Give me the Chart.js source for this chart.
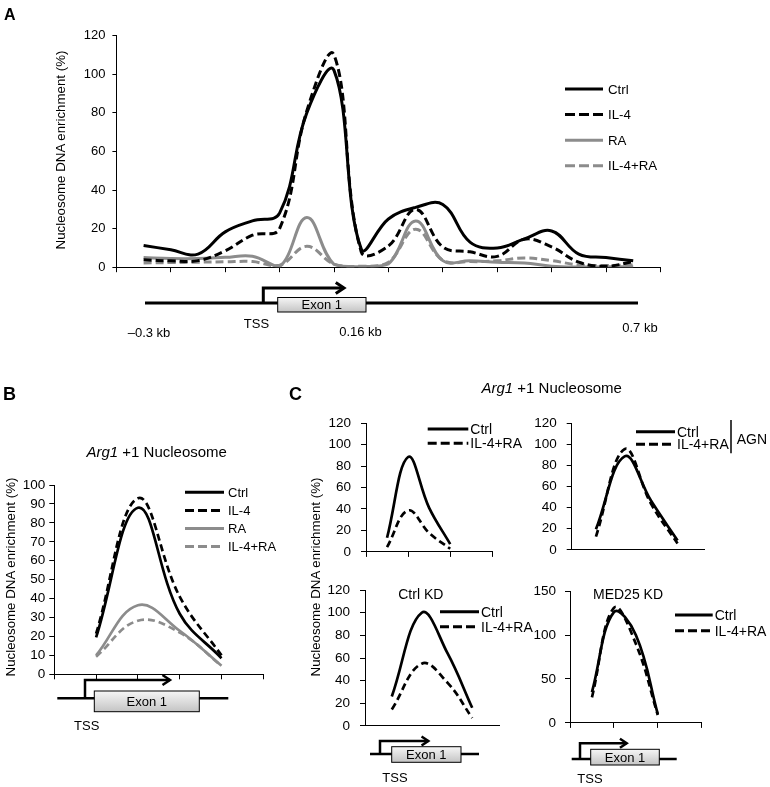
<!DOCTYPE html>
<html>
<head>
<meta charset="utf-8">
<script src="https://cdn.jsdelivr.net/npm/chart.js@4.4.1/dist/chart.umd.min.js"></script>
<style>
  html, body { margin: 0; padding: 0; background: #fff; }
  #page { position: relative; width: 770px; height: 787px; overflow: hidden; font-family: "Liberation Sans", Arial, sans-serif; }
  #page canvas { position: absolute; }
  #overlay { position: absolute; left: 0; top: 0; }
</style>
</head>
<body>
<div id="page">
  <svg id="overlay" width="770" height="787" font-family="Liberation Sans, Arial, sans-serif"></svg>
</div>
<script>
// ---- data ----
// panel A: nucleosome scan across the locus (axis units 0-20)
const posA = [1, 2, 3, 4, 5, 6, 7, 8, 9, 10, 11, 12, 13, 14, 15, 16, 17, 18, 19];
const ctrlA   = [11.3, 9, 6.8, 18.3, 24, 28, 80, 102, 9.5, 25, 31, 32.5, 13, 10, 14.7, 18.8, 6.8, 5, 3.3];
const il4A    = [3.8, 3.3, 3.4, 8.5, 16.6, 20, 81, 110, 8, 11, 30, 10.5, 8, 5.6, 14.5, 10.5, 2.6, 0.5, 2.9];
const raA     = [5, 4.5, 4.5, 5.1, 5.7, 0.4, 25.7, 1.5, 0.3, 1.7, 24, 3.4, 3.3, 2.6, 2.2, 0.5, 0.1, 0.2, 0.2];
const il4raA  = [2.2, 2.4, 2.6, 2.8, 2.9, 1, 10.8, 1.6, 0.5, 2.6, 19.7, 3.6, 2.9, 3.3, 4.8, 3.4, 1.2, 0.9, 1.2];
const yTicksA = [0, 20, 40, 60, 80, 100, 120];
const xTicksA = [0, 2, 4, 6, 8, 10, 12, 14, 16, 18, 20];

// panel B: Arg1 +1 nucleosome
const posB = [1, 2, 3, 4];
const ctrlB  = [19.5, 88, 32, 8.5];
const il4B   = [21.5, 93, 41, 10];
const raB    = [10, 36.5, 23, 4.5];
const il4raB = [9.3, 28.3, 22, 4.5];
const yTicksB = [0, 10, 20, 30, 40, 50, 60, 70, 80, 90, 100];
const xTicksB = [0, 1, 2, 3, 4, 5];

// panel C: four small charts
const posC1 = [0.5, 1, 1.5, 2];
const ctrlC1  = [13.2, 88.4, 41, 7.3];
const il4raC1 = [4.4, 38.6, 17.6, 2.9];
const posC2 = [0.55, 1.2, 1.8, 2.4];
const ctrlC2  = [19.5, 88.5, 46.5, 9];
const il4raC2 = [12.6, 95.4, 43.5, 6];
const posC3 = [0.6, 1.27, 1.85, 2.4];
const ctrlC3  = [26, 100, 64, 16];
const il4raC3 = [14.5, 55, 38, 7];
const posC4 = [0.5, 1, 1.5, 2];
const ctrlC4  = [35, 126, 100, 10];
const il4raC4 = [29, 131, 90, 9];
const yTicksC = [0, 20, 40, 60, 80, 100, 120];
const yTicksC4 = [0, 50, 100, 150];
const xTicksC = [0, 1, 2, 3];

const BLACK = '#000';
const GRAY = '#8c8c8c';

// legend drawn as line sample + label, one row per dataset
const lineLegend = {
  id: 'lineLegend',
  afterDatasetsDraw(chart, args, opts) {
    if (opts.x == null) return;
    const ctx = chart.ctx;
    ctx.save();
    ctx.font = opts.font;
    ctx.textBaseline = 'middle';
    ctx.fillStyle = '#000';
    chart.data.datasets.forEach((ds, i) => {
      const y = opts.y + i * opts.dy;
      ctx.beginPath();
      ctx.setLineDash(ds.borderDash.length ? opts.dash : []);
      ctx.lineWidth = opts.lw;
      ctx.strokeStyle = ds.borderColor;
      ctx.moveTo(opts.x, y);
      ctx.lineTo(opts.x + opts.len, y);
      ctx.stroke();
      ctx.setLineDash([]);
      ctx.fillText(ds.label, opts.x + opts.len + opts.gap, y + 1);
    });
    ctx.restore();
  }
};

const page = document.getElementById('page');
const overlay = document.getElementById('overlay');

function makeChart(cfg) {
  const c = document.createElement('canvas');
  c.width = cfg.box.w;
  c.height = cfg.box.h;
  c.style.left = cfg.box.x + 'px';
  c.style.top = cfg.box.y + 'px';
  page.insertBefore(c, overlay);
  const yW = cfg.area.l - cfg.box.x;
  const xH = cfg.box.y + cfg.box.h - cfg.area.b;
  const lg = cfg.legend;
  return new Chart(c.getContext('2d'), {
    type: 'line',
    data: {
      datasets: cfg.series.map(s => ({
        label: s.label,
        data: cfg.xs.map((x, i) => ({ x: x, y: s.data[i] })),
        borderColor: s.color,
        borderDash: s.dash || [],
        borderWidth: cfg.lw,
        borderJoinStyle: 'round',
        pointRadius: 0,
        tension: 0.4,
        fill: false
      }))
    },
    options: {
      responsive: false,
      animation: false,
      events: [],
      layout: { padding: { top: cfg.area.t - cfg.box.y, right: cfg.box.x + cfg.box.w - cfg.area.r, left: 0, bottom: 0 } },
      plugins: {
        legend: { display: false },
        tooltip: { enabled: false },
        lineLegend: {
          x: lg.x - cfg.box.x, y: lg.y - cfg.box.y, dy: lg.dy, len: lg.len, gap: lg.gap,
          font: lg.size + 'px "Liberation Sans", Arial, sans-serif', lw: 3, dash: lg.dash
        }
      },
      scales: {
        x: {
          type: 'linear',
          min: cfg.xTicks[0],
          max: cfg.xTicks[cfg.xTicks.length - 1],
          afterBuildTicks: s => { s.ticks = cfg.xTicks.map(v => ({ value: v })); },
          ticks: { display: false },
          grid: { drawOnChartArea: false, drawTicks: cfg.xMarks, tickLength: 5, color: BLACK, lineWidth: 1 },
          border: { color: BLACK, width: 1 },
          afterFit: s => { s.height = xH; }
        },
        y: {
          min: cfg.yTicks[0],
          max: cfg.yTicks[cfg.yTicks.length - 1],
          afterBuildTicks: s => { s.ticks = cfg.yTicks.map(v => ({ value: v })); },
          ticks: { color: BLACK, autoSkip: false, padding: cfg.tickPad, font: { family: '"Liberation Sans", Arial, sans-serif', size: cfg.tickSize || 13 } },
          grid: { drawOnChartArea: false, tickLength: cfg.tickLen, color: BLACK, lineWidth: 1 },
          border: { color: BLACK, width: 1 },
          afterFit: s => { s.width = yW; }
        }
      }
    },
    plugins: [lineLegend]
  });
}

// panel A
makeChart({
  box: { x: 0, y: 20, w: 680, h: 262 }, area: { l: 116.4, t: 35.7, r: 660.4, b: 268.7 },
  xs: posA, xTicks: xTicksA, yTicks: yTicksA, xMarks: true, tickLen: 4, tickPad: 7, lw: 3,
  series: [
    { label: 'Ctrl', data: ctrlA, color: BLACK },
    { label: 'IL-4', data: il4A, color: BLACK, dash: [8, 4] },
    { label: 'RA', data: raA, color: GRAY },
    { label: 'IL-4+RA', data: il4raA, color: GRAY, dash: [8, 4] }
  ],
  legend: { x: 565, y: 89, dy: 25.6, len: 38, gap: 5, size: 13.3, dash: [10, 4] }
});

// panel B
makeChart({
  box: { x: 0, y: 470, w: 290, h: 220 }, area: { l: 54.3, t: 485, r: 263.3, b: 674.3 },
  xs: posB, xTicks: xTicksB, yTicks: yTicksB, xMarks: true, tickLen: 5, tickPad: 4, tickSize: 13.5, lw: 2.7,
  series: [
    { label: 'Ctrl', data: ctrlB, color: BLACK },
    { label: 'IL-4', data: il4B, color: BLACK, dash: [7, 4] },
    { label: 'RA', data: raB, color: GRAY },
    { label: 'IL-4+RA', data: il4raB, color: GRAY, dash: [7, 4] }
  ],
  legend: { x: 185, y: 492.3, dy: 18.1, len: 39, gap: 4, size: 13, dash: [9, 4] }
});

// panel C
const seriesC = (c, d) => [
  { label: 'Ctrl', data: c, color: BLACK },
  { label: 'IL-4+RA', data: d, color: BLACK, dash: [7, 4] }
];
makeChart({
  box: { x: 325, y: 405, w: 205, h: 165 }, area: { l: 366, t: 420, r: 492.3, b: 556.7 },
  xs: posC1, xTicks: xTicksC, yTicks: yTicksC, xMarks: true, tickLen: 5, tickPad: 10, tickSize: 13.5, lw: 2.7,
  series: seriesC(ctrlC1, il4raC1),
  legend: { x: 427.7, y: 429, dy: 14.3, len: 40.6, gap: 2, size: 14, dash: [9, 4] }
});
makeChart({
  box: { x: 528, y: 405, w: 242, h: 163 }, area: { l: 571.7, t: 421.7, r: 704, b: 555 },
  xs: posC2, xTicks: xTicksC, yTicks: yTicksC, xMarks: false, tickLen: 5, tickPad: 10, tickSize: 13.5, lw: 2.7,
  series: seriesC(ctrlC2, il4raC2),
  legend: { x: 636, y: 431.7, dy: 12.6, len: 39, gap: 2, size: 14, dash: [9, 4] }
});
makeChart({
  box: { x: 325, y: 572, w: 215, h: 172 }, area: { l: 365, t: 588.3, r: 499, b: 731.7 },
  xs: posC3, xTicks: xTicksC, yTicks: yTicksC, xMarks: false, tickLen: 5, tickPad: 10, tickSize: 13.5, lw: 2.7,
  series: seriesC(ctrlC3, il4raC3),
  legend: { x: 440, y: 611.7, dy: 15, len: 39, gap: 2, size: 14, dash: [9, 4] }
});
makeChart({
  box: { x: 528, y: 574, w: 242, h: 166 }, area: { l: 570, t: 590, r: 701.7, b: 727.3 },
  xs: posC4, xTicks: xTicksC, yTicks: yTicksC4, xMarks: true, tickLen: 5, tickPad: 9, tickSize: 13.5, lw: 2.7,
  series: seriesC(ctrlC4, il4raC4),
  legend: { x: 675, y: 615, dy: 15.7, len: 37.7, gap: 2, size: 14, dash: [9, 4] }
});

// ---- labels and gene diagrams (svg) ----
let svg = '<defs><linearGradient id="exon" x1="0" y1="0" x2="0" y2="1">' +
  '<stop offset="0" stop-color="#f6f6f6"/><stop offset="1" stop-color="#c4c4c4"/></linearGradient></defs>';

function txt(x, y, s, size, extra) {
  svg += `<text x="${x}" y="${y}" font-size="${size}" ${extra || ''}>${s}</text>`;
}
function vtitle(x, y) {
  svg += `<text transform="translate(${x},${y}) rotate(-90)" text-anchor="middle" dominant-baseline="central" font-size="13.3">Nucleosome DNA enrichment (%)</text>`;
}

txt(4, 20, 'A', 16, 'font-weight="bold"');
txt(3, 400, 'B', 18, 'font-weight="bold"');
txt(289, 400, 'C', 18, 'font-weight="bold"');
vtitle(60, 150);
vtitle(10, 577);
vtitle(315, 577);
txt(156.7, 457, '<tspan font-style="italic">Arg1</tspan> +1 Nucleosome', 15, 'text-anchor="middle"');
txt(551.7, 392.5, '<tspan font-style="italic">Arg1</tspan> +1 Nucleosome', 15, 'text-anchor="middle"');
txt(420.8, 599, 'Ctrl KD', 14, 'text-anchor="middle"');
txt(628, 599, 'MED25 KD', 14, 'text-anchor="middle"');
svg += '<line x1="731" y1="420" x2="731" y2="453.3" stroke="#000" stroke-width="1.5"/>';
txt(736.7, 443.5, 'AGN', 14);

const genes = [
  { x1: 145, x2: 638, y: 303, tss: 263.3, top: 288, arrow: 344, bx1: 277.7, bx2: 366, by1: 297.5, by2: 312, lw: 3, lx: 256.5, ly: 327.5, ah: 5.5 },
  { x1: 57.3, x2: 228.3, y: 698.3, tss: 85, top: 680, arrow: 170, bx1: 94.3, bx2: 199.3, by1: 691, by2: 711.7, lw: 2.5, lx: 86.7, ly: 729.5, ah: 5 },
  { x1: 370, x2: 479, y: 754, tss: 380, top: 741, arrow: 428.3, bx1: 391.7, bx2: 461, by1: 746.7, by2: 762.3, lw: 2.5, lx: 395, ly: 781.5, ah: 4.5 },
  { x1: 571.7, x2: 676.7, y: 759, tss: 580, top: 743.3, arrow: 626.7, bx1: 590.7, bx2: 659.3, by1: 749.3, by2: 765, lw: 2.5, lx: 590, ly: 782.5, ah: 4.5 }
];
genes.forEach(g => {
  svg += `<line x1="${g.x1}" y1="${g.y}" x2="${g.x2}" y2="${g.y}" stroke="#000" stroke-width="${g.lw}"/>`;
  svg += `<polyline points="${g.tss},${g.y} ${g.tss},${g.top} ${g.arrow},${g.top}" fill="none" stroke="#000" stroke-width="${g.lw}"/>`;
  svg += `<polyline points="${g.arrow - g.ah * 1.5},${g.top - g.ah} ${g.arrow},${g.top} ${g.arrow - g.ah * 1.5},${g.top + g.ah}" fill="none" stroke="#000" stroke-width="${g.lw}"/>`;
  svg += `<rect x="${g.bx1}" y="${g.by1}" width="${g.bx2 - g.bx1}" height="${g.by2 - g.by1}" fill="url(#exon)" stroke="#000" stroke-width="1"/>`;
  txt((g.bx1 + g.bx2) / 2, (g.by1 + g.by2) / 2 + 4.6, 'Exon 1', 13, 'text-anchor="middle"');
  txt(g.lx, g.ly, 'TSS', 13, 'text-anchor="middle"');
});
txt(149, 336.5, '–0.3 kb', 13, 'text-anchor="middle"');
txt(360.5, 335.5, '0.16 kb', 13, 'text-anchor="middle"');
txt(640, 331.5, '0.7 kb', 13, 'text-anchor="middle"');

overlay.innerHTML = svg;
</script>
</body>
</html>
